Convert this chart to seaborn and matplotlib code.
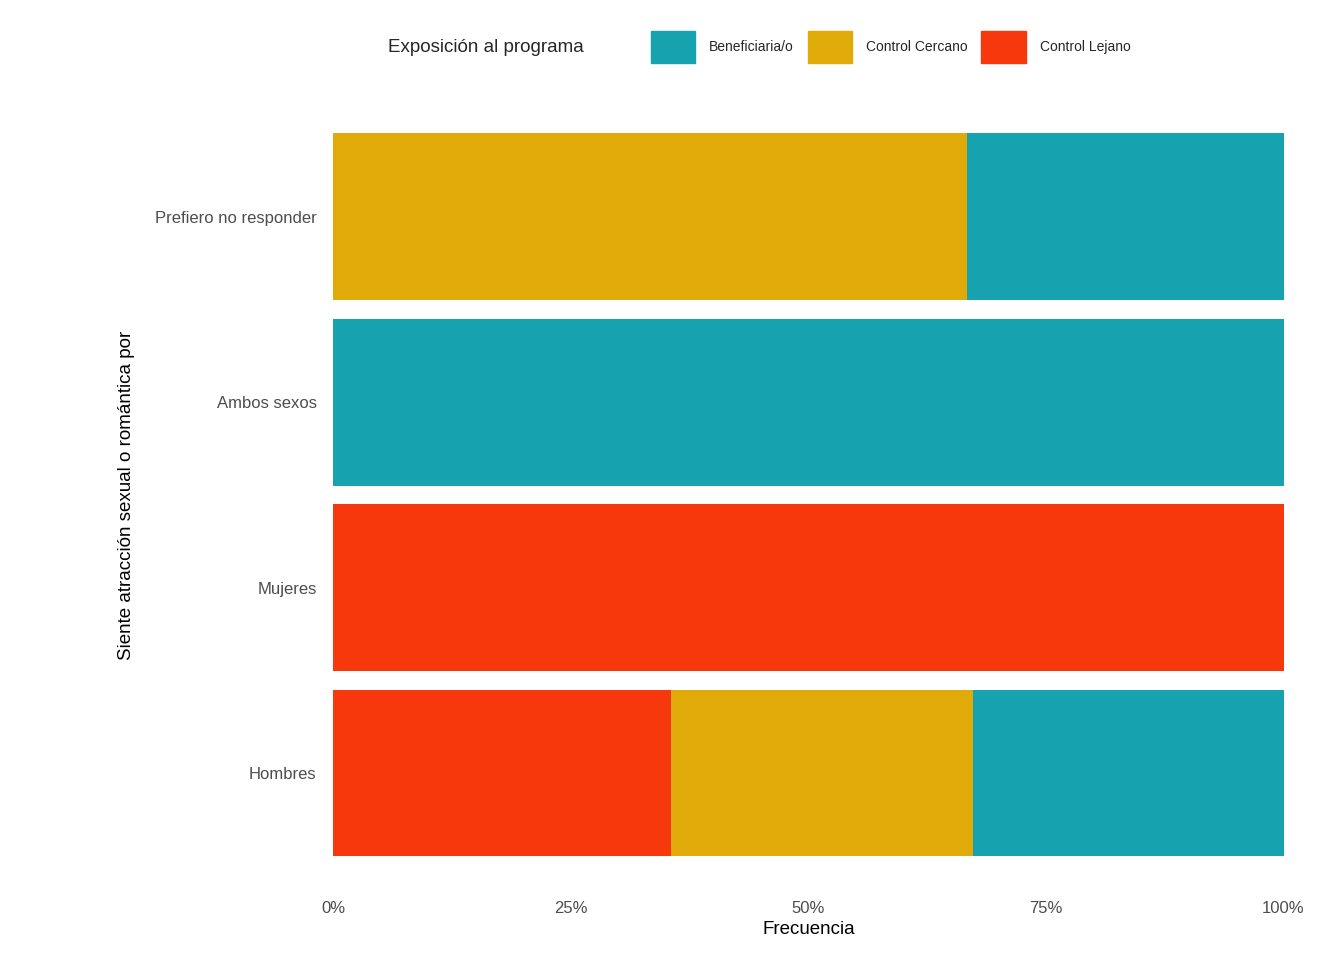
import matplotlib
matplotlib.use("Agg")
import matplotlib.pyplot as plt
import matplotlib.patches as mpatches
import seaborn as sns
import pandas as pd
from matplotlib.ticker import PercentFormatter

categories = ["Prefiero no responder", "Ambos sexos", "Mujeres", "Hombres"]
groups = ["Beneficiaria/o", "Control Cercano", "Control Lejano"]
colors = ["#16A2AF", "#E0AB08", "#F7380D"]
beneficiaria = [33.3, 100.0, 0.0, 32.7]
cercano = [66.7, 0.0, 0.0, 31.8]
lejano = [0.0, 0.0, 100.0, 35.5]

sns.set_theme(style="white")
plt.rcParams["font.family"] = ["Liberation Sans", "DejaVu Sans"]

df = pd.DataFrame({"cat": categories, "Beneficiaria/o": beneficiaria,
                   "Control Cercano": cercano, "Control Lejano": lejano})
# cumulative layers: lejano at left, then cercano, then beneficiaria
df["c_lejano"] = df["Control Lejano"]
df["c_cercano"] = df["c_lejano"] + df["Control Cercano"]
df["c_benef"] = df["c_cercano"] + df["Beneficiaria/o"]

fig = plt.figure(figsize=(13.44, 9.6), dpi=100)
ax = fig.add_axes([0.248, 0.079, 0.707, 0.811])
for col, c in [("c_benef", colors[0]), ("c_cercano", colors[1]), ("c_lejano", colors[2])]:
    sns.barplot(data=df, x=col, y="cat", order=categories, color=c,
                width=0.9, saturation=1, ax=ax, linewidth=0)

ax.set_xlim(0, 100)
ax.set_ylim(3.6, -0.6)
ax.set_xticks([0, 25, 50, 75, 100])
ax.xaxis.set_major_formatter(PercentFormatter(decimals=0))
ax.tick_params(axis="both", labelsize=12, colors="#4d4d4d", length=0, pad=12)
ax.set_xlabel("Frecuencia", fontsize=13.5, color="black", labelpad=4)
ax.set_ylabel("Siente atracción sexual o romántica por", fontsize=13.5, color="black", labelpad=14)
for s in ax.spines.values():
    s.set_visible(False)

handles = [mpatches.Patch(color=c, label=g) for c, g in zip(colors, groups)]
fig.text(388 / 1344, 1 - 48 / 960, "Exposición al programa", fontsize=13.5, va="center")
fig.legend(handles=handles, loc="center left", bbox_to_anchor=(645 / 1344, 1 - 47 / 960),
           ncol=3, frameon=False, fontsize=10, handlelength=3.2, handleheight=3.2,
           handletextpad=1.0, columnspacing=1.0, borderaxespad=0)

fig.savefig("out.png", dpi=100)
